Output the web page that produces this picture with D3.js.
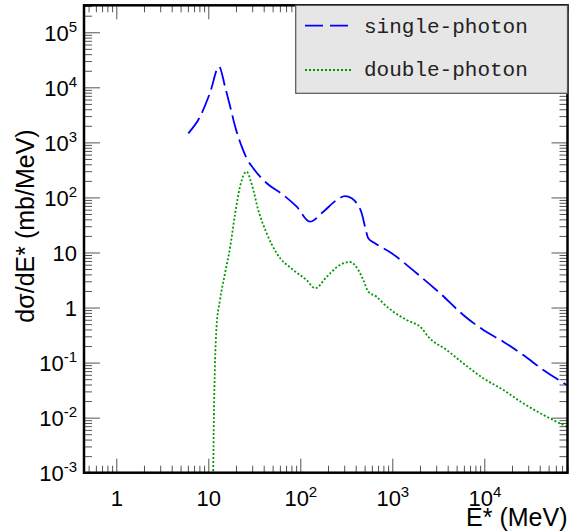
<!DOCTYPE html>
<html>
<head>
<meta charset="utf-8">
<script src="https://cdn.jsdelivr.net/npm/d3@7"></script>
<style>
  body { margin: 0; background: #fff; }
  text { font-family: "Liberation Sans", Arial, sans-serif; }
</style>
</head>
<body>
<div id="chart"></div>
<script>
// values (energy in MeV, cross-section in mb/MeV)
var singleE = [6.06, 8.13, 10.4, 13.1, 15.2, 17.3, 19.6, 23.1, 26.1, 30.8, 43.2, 65.3, 91.4, 127, 178, 249,
  306, 362, 410, 465, 505, 548, 649, 985, 1840, 3300, 5910, 9750, 16100, 26500, 43800, 78700];
var singleSigma = [1460, 2930, 7800, 23700, 10300, 4450, 1930, 836, 514, 339, 181, 111, 67.9, 36.3, 55.1, 89.9,
  106, 96.5, 78.3, 51.5, 29.4, 18.1, 14.7, 9.67, 4.19, 1.82, 0.733, 0.391, 0.240, 0.137, 0.0735, 0.0392];

var doubleE = [11.3, 11.5, 11.8, 12.3, 13.4, 15.2, 17.3, 19.6, 22.1, 26.1, 29.6, 34.9, 43.1, 55.4, 83.9, 117,
  145, 194, 270, 347, 427, 484, 548, 676, 798, 1025, 1435, 2090, 2460, 3900, 5910, 9750, 16100, 26500, 43800, 78700];
var doubleSigma = [0.0009, 0.0104, 0.0843, 0.449, 1.37, 4.19, 12.7, 51.5, 157, 294, 175, 59.2, 22.3, 9.67, 4.81, 3.16,
  2.24, 3.63, 5.93, 6.72, 4.81, 3.16, 1.94, 1.57, 1.19, 0.841, 0.594, 0.420, 0.295, 0.169, 0.0970, 0.0519,
  0.0318, 0.0182, 0.0112, 0.00686];

var seriesNames = ["single-photon", "double-photon"];

var xTickValues = [1, 10, 100, 1000, 10000];
var xTickLabels = ["1", "10", "10^2", "10^3", "10^4"];
var yTickValues = [1e-3, 1e-2, 1e-1, 1, 10, 100, 1e3, 1e4, 1e5];
var yTickLabels = ["10^-3", "10^-2", "10^-1", "1", "10", "10^2", "10^3", "10^4", "10^5"];

var svgWidth = 571;
var svgHeight = 531;

var margin = { top: 5.3, right: 3.5, bottom: 58.3, left: 84 };
var width = svgWidth - margin.left - margin.right;
var height = svgHeight - margin.top - margin.bottom;

var svg = d3.select("#chart")
  .append("svg")
  .attr("width", svgWidth)
  .attr("height", svgHeight);

var chartGroup = svg.append("g")
  .attr("transform", `translate(${margin.left}, ${margin.top})`);

var xScale = d3.scaleLog().domain([0.4456, 8.02e4]).range([0, width]);
var yScale = d3.scaleLog().domain([1e-3, 3.09e5]).range([height, 0]);

// minor ticks at 2..9 of each decade
function minorTicks(scale) {
  var dom = scale.domain();
  var out = [];
  for (var e = Math.floor(Math.log10(dom[0])); e <= Math.ceil(Math.log10(dom[1])); e++) {
    for (var m = 2; m <= 9; m++) {
      var v = m * Math.pow(10, e);
      if (v >= dom[0] && v <= dom[1]) out.push(v);
    }
  }
  return out;
}

// put "10^k" as 10 with a raised exponent
function writeLabel(sel, label) {
  var parts = label.split("^");
  sel.text(null);
  sel.append("tspan").text(parts[0]);
  if (parts.length > 1) {
    sel.append("tspan")
      .attr("dy", -9)
      .style("font-size", "15px")
      .text(parts[1]);
  }
}

function styleTicks(g) {
  g.select(".domain").remove();
  g.selectAll(".tick line").attr("stroke", "#555").attr("stroke-width", 1);
}

// bottom axis, ticks pointing inside
var xMinor = chartGroup.append("g")
  .attr("transform", `translate(0, ${height})`)
  .call(d3.axisBottom(xScale).tickValues(minorTicks(xScale)).tickSize(-7).tickFormat(""))
  .call(styleTicks);

var xAxis = chartGroup.append("g")
  .attr("transform", `translate(0, ${height})`)
  .call(d3.axisBottom(xScale).tickValues(xTickValues).tickSize(-14))
  .call(styleTicks);

xAxis.selectAll(".tick text")
  .attr("y", 33)
  .attr("dy", 0)
  .attr("fill", "#000")
  .style("font-size", "22px")
  .each(function(d, i) { writeLabel(d3.select(this), xTickLabels[i]); });

// top axis, ticks only
chartGroup.append("g")
  .call(d3.axisTop(xScale).tickValues(minorTicks(xScale)).tickSize(-7).tickFormat(""))
  .call(styleTicks);
chartGroup.append("g")
  .call(d3.axisTop(xScale).tickValues(xTickValues).tickSize(-14).tickFormat(""))
  .call(styleTicks);

// left axis
chartGroup.append("g")
  .call(d3.axisLeft(yScale).tickValues(minorTicks(yScale)).tickSize(-8).tickFormat(""))
  .call(styleTicks);

var yAxis = chartGroup.append("g")
  .call(d3.axisLeft(yScale).tickValues(yTickValues).tickSize(-16))
  .call(styleTicks);

yAxis.selectAll(".tick text")
  .attr("x", -7)
  .attr("dy", 8)
  .attr("fill", "#000")
  .attr("text-anchor", "end")
  .style("font-size", "22px")
  .each(function(d, i) { writeLabel(d3.select(this), yTickLabels[i]); });

// right axis, ticks only
chartGroup.append("g")
  .attr("transform", `translate(${width}, 0)`)
  .call(d3.axisRight(yScale).tickValues(minorTicks(yScale)).tickSize(-8).tickFormat(""))
  .call(styleTicks);
chartGroup.append("g")
  .attr("transform", `translate(${width}, 0)`)
  .call(d3.axisRight(yScale).tickValues(yTickValues).tickSize(-16).tickFormat(""))
  .call(styleTicks);

// curves
chartGroup.append("clipPath")
  .attr("id", "plotClip")
  .append("rect")
  .attr("width", width)
  .attr("height", height);

var line = d3.line()
  .x(d => xScale(d[0]))
  .y(d => yScale(d[1]))
  .curve(d3.curveMonotoneX);

var singleData = singleE.map((e, i) => [e, singleSigma[i]]);
var doubleData = doubleE.map((e, i) => [e, doubleSigma[i]]);

chartGroup.append("path")
  .datum(doubleData)
  .attr("clip-path", "url(#plotClip)")
  .attr("fill", "none")
  .attr("stroke", "#009a00")
  .attr("stroke-width", 1.8)
  .attr("stroke-dasharray", "2,2")
  .attr("d", line);

chartGroup.append("path")
  .datum(singleData)
  .attr("clip-path", "url(#plotClip)")
  .attr("fill", "none")
  .attr("stroke", "#0000ff")
  .attr("stroke-width", 1.8)
  .attr("stroke-dasharray", "19,6")
  .attr("d", line);

// frame
chartGroup.append("rect")
  .attr("width", width)
  .attr("height", height)
  .attr("fill", "none")
  .attr("stroke", "#000")
  .attr("stroke-width", 2.5);

// legend box
var legend = svg.append("g");

legend.append("rect")
  .attr("x", 295.7)
  .attr("y", margin.top)
  .attr("width", svgWidth - margin.right - 295.7)
  .attr("height", 88)
  .attr("fill", "#e6e6e6")
  .attr("stroke", "#555")
  .attr("stroke-width", 1.2);

legend.append("line")
  .attr("x1", 305).attr("x2", 353)
  .attr("y1", 25.7).attr("y2", 25.7)
  .attr("stroke", "#0000ff")
  .attr("stroke-width", 1.8)
  .attr("stroke-dasharray", "18,7");

legend.append("line")
  .attr("x1", 305).attr("x2", 353)
  .attr("y1", 70).attr("y2", 70)
  .attr("stroke", "#009a00")
  .attr("stroke-width", 1.8)
  .attr("stroke-dasharray", "2,2");

legend.selectAll("text.entry")
  .data(seriesNames)
  .enter()
  .append("text")
  .attr("class", "entry")
  .attr("x", 364)
  .attr("y", (d, i) => i === 0 ? 33 : 76)
  .style("font-family", "'Liberation Mono', 'DejaVu Sans Mono', monospace")
  .style("font-size", "21px")
  .attr("fill", "#222")
  .text(d => d);

// axis titles
svg.append("text")
  .attr("x", svgWidth - margin.right)
  .attr("y", 525.7)
  .attr("text-anchor", "end")
  .style("font-size", "25px")
  .text("E* (MeV)");

svg.append("text")
  .attr("transform", "rotate(-90)")
  .attr("x", -226)
  .attr("y", 34)
  .attr("text-anchor", "middle")
  .style("font-size", "25px")
  .text("dσ/dE* (mb/MeV)");
</script>
</body>
</html>
